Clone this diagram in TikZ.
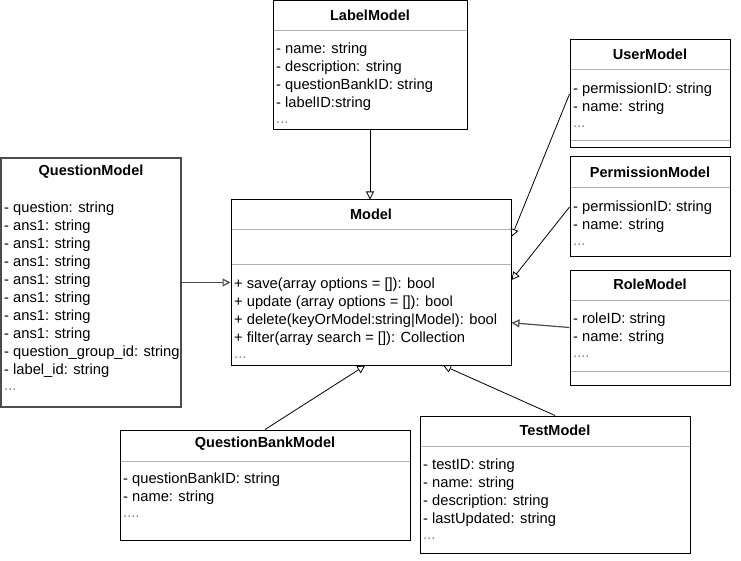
\documentclass[tikz,border=0pt]{standalone}
\usepackage{fontspec}
\setmainfont{Liberation Sans}
\usetikzlibrary{arrows.meta}

\begin{document}
\begin{tikzpicture}[x=1pt,y=-1pt,
  cls/.style={draw,line width=1pt,inner sep=0pt},
  title/.style={yshift=-1pt,font=\fontsize{14.5}{16}\selectfont\bfseries},
  row/.style={anchor=west,inner sep=0pt,yshift=-1.5pt,font=\fontsize{14.7}{16}\selectfont},
  dots/.style={row,text=gray},
  sep/.style={draw=gray!60,line width=1pt},
  inh/.style={line width=0.8pt,-{Triangle[open,length=8pt,width=8pt]}}]
\useasboundingbox (0,0) rectangle (741,561);

% boxes
\node[cls,minimum width=194pt,minimum height=129pt] (label) at (370,65.5) {};
\node[cls,minimum width=160pt,minimum height=108pt] (user) at (650,94) {};
\node[cls,minimum width=160pt,minimum height=100pt] (perm) at (650,207) {};
\node[cls,minimum width=160pt,minimum height=115pt] (role) at (650,327.5) {};
\node[cls,draw=gray!60!black,line width=1.2pt,minimum width=180pt,minimum height=249pt] (question) at (91,282.5) {};
\node[cls,minimum width=280pt,minimum height=165pt] (model) at (371,282.5) {};
\node[cls,minimum width=290pt,minimum height=110pt] (qbank) at (265,485) {};
\node[cls,minimum width=270pt,minimum height=137pt] (test) at (555,484.5) {};

% LabelModel
\node[title] (labelT) at (370,14) {LabelModel};
\draw[sep] (273.5,31) -- (466.5,31);
\node[row] (label1) at (276,48) {- name: string};
\node[row] (label2) at (276,66) {- description: string};
\node[row] (label3) at (276,84) {- questionBankID: string};
\node[row] (label4) at (276,102) {- labelID:string};
\node[dots] (label5) at (276,121) {...};

% UserModel
\node[title] (userT) at (650,53) {UserModel};
\draw[sep] (570.5,70) -- (729.5,70);
\node[row] (user1) at (573,88) {- permissionID: string};
\node[row] (user2) at (573,106) {- name: string};
\node[dots] (user3) at (573,125) {...};
\draw[sep] (570.5,141) -- (729.5,141);

% PermissionModel
\node[title] (permT) at (650,171) {PermissionModel};
\draw[sep] (570.5,188) -- (729.5,188);
\node[row] (perm1) at (573,206) {- permissionID: string};
\node[row] (perm2) at (573,224) {- name: string};
\node[dots] (perm3) at (573,243) {...};

% RoleModel
\node[title] (roleT) at (650,283) {RoleModel};
\draw[sep] (570.5,300) -- (729.5,300);
\node[row] (role1) at (573,318) {- roleID: string};
\node[row] (role2) at (573,336) {- name: string};
\node[dots] (role3) at (573,355) {....};
\draw[sep] (570.5,371) -- (729.5,371);

% QuestionModel
\node[title] (questionT) at (91,171) {QuestionModel};
\node[row] (q1) at (4,207) {- question: string};
\node[row] (q2) at (4,225) {- ans1: string};
\node[row] (q3) at (4,243) {- ans1: string};
\node[row] (q4) at (4,261) {- ans1: string};
\node[row] (q5) at (4,279) {- ans1: string};
\node[row] (q6) at (4,297) {- ans1: string};
\node[row] (q7) at (4,315) {- ans1: string};
\node[row] (q8) at (4,333) {- ans1: string};
\node[row] (q9) at (4,351) {- question\_group\_id: string};
\node[row] (q10) at (4,369) {- label\_id: string};
\node[dots] (q11) at (4,388) {...};

% Model
\node[title] (modelT) at (371,213) {Model};
\draw[sep] (231.5,230) -- (510.5,230);
\draw[sep] (231.5,265) -- (510.5,265);
\node[row] (m1) at (234,283) {+ save(array options = []): bool};
\node[row] (m2) at (234,301) {+ update (array options = []): bool};
\node[row] (m3) at (234,319) {+ delete(keyOrModel:string|Model): bool};
\node[row] (m4) at (234,337) {+ filter(array search = []): Collection};
\node[dots] (m5) at (234,356) {...};

% QuestionBankModel
\node[title] (qbankT) at (265,443) {QuestionBankModel};
\draw[sep] (120.5,461) -- (409.5,461);
\node[row] (qb1) at (123,478) {- questionBankID: string};
\node[row] (qb2) at (123,496) {- name: string};
\node[dots] (qb3) at (123,515) {....};

% TestModel
\node[title] (testT) at (555,429) {TestModel};
\draw[sep] (420.5,446) -- (689.5,446);
\node[row] (t1) at (423,464) {- testID: string};
\node[row] (t2) at (423,482) {- name: string};
\node[row] (t3) at (423,500) {- description: string};
\node[row] (t4) at (423,518) {- lastUpdated: string};
\node[dots] (t5) at (423,537) {...};

% inheritance
\draw[inh] (label.south) -- (label.south |- model.north);
\draw[inh] (user.west) -- (model.18);
\draw[inh] (perm.west) -- (model.1);
\draw[inh,draw=gray!60!black,line width=1.2pt] (role.west) -- (model.-16);
\draw[inh,draw=gray!60!black,line width=1.2pt] (question.east) -- (model.west);
\draw[inh] (qbank.north) -- (model.-94);
\draw[inh] (test.north) -- (model.-49);
\end{tikzpicture}
\end{document}
